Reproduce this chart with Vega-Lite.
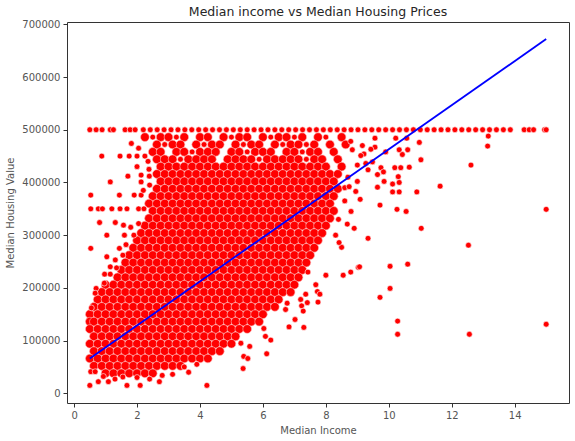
{
  "$schema": "https://vega.github.io/schema/vega-lite/v6.json",
  "width": 502,
  "height": 381,
  "autosize": "none",
  "padding": {"left": 67, "top": 22, "right": 6, "bottom": 38},
  "title": {"text": "Median income vs Median Housing Prices", "font": "DejaVu Sans", "fontSize": 12.5, "fontWeight": "normal", "color": "#262626", "offset": 1},
  "config": {
    "view": {"stroke": "#333333", "strokeWidth": 1},
    "axis": {"grid": false, "domain": false, "labelFont": "DejaVu Sans", "titleFont": "DejaVu Sans", "labelFontSize": 10, "titleFontSize": 10, "labelColor": "#555555", "titleColor": "#555555", "titleFontWeight": "normal", "tickColor": "#333333", "tickSize": 4, "labelPadding": 3, "labelFlush": false}
  },
  "datasets": {
    "core": [
      {"x":2.25,"y":486000},{"x":2.75,"y":486000},{"x":3.0,"y":486000},{"x":3.5,"y":486000},{"x":4.0,"y":486000},{"x":4.25,"y":486000},{"x":4.75,"y":486000},{"x":5.25,"y":486000},{"x":5.5,"y":486000},{"x":6.0,"y":486000},{"x":6.5,"y":486000},{"x":6.75,"y":486000},{"x":7.25,"y":486000},{"x":7.75,"y":486000},{"x":8.5,"y":486000},
      {"x":2.63,"y":472000},{"x":3.13,"y":472000},{"x":3.38,"y":472000},{"x":3.88,"y":472000},{"x":4.38,"y":472000},{"x":4.63,"y":472000},{"x":5.13,"y":472000},{"x":5.63,"y":472000},{"x":5.88,"y":472000},{"x":6.38,"y":472000},{"x":6.88,"y":472000},{"x":7.13,"y":472000},{"x":7.63,"y":472000},{"x":8.13,"y":472000},{"x":8.63,"y":472000},
      {"x":2.5,"y":458000},{"x":2.75,"y":458000},{"x":3.25,"y":458000},{"x":3.5,"y":458000},{"x":4.0,"y":458000},{"x":4.25,"y":458000},{"x":4.5,"y":458000},{"x":5.0,"y":458000},{"x":5.25,"y":458000},{"x":5.75,"y":458000},{"x":6.0,"y":458000},{"x":6.25,"y":458000},{"x":6.75,"y":458000},{"x":7.0,"y":458000},{"x":7.5,"y":458000},{"x":7.75,"y":458000},{"x":8.25,"y":458000},
      {"x":2.63,"y":444000},{"x":2.88,"y":444000},{"x":3.13,"y":444000},{"x":3.63,"y":444000},{"x":3.88,"y":444000},{"x":4.13,"y":444000},{"x":4.38,"y":444000},{"x":4.88,"y":444000},{"x":5.13,"y":444000},{"x":5.38,"y":444000},{"x":5.63,"y":444000},{"x":6.13,"y":444000},{"x":6.38,"y":444000},{"x":6.63,"y":444000},{"x":6.88,"y":444000},{"x":7.13,"y":444000},{"x":7.63,"y":444000},{"x":7.88,"y":444000},{"x":8.38,"y":444000},
      {"x":2.75,"y":430000},{"x":3.0,"y":430000},{"x":3.25,"y":430000},{"x":3.5,"y":430000},{"x":3.75,"y":430000},{"x":4.0,"y":430000},{"x":4.25,"y":430000},{"x":4.5,"y":430000},{"x":4.75,"y":430000},{"x":5.0,"y":430000},{"x":5.25,"y":430000},{"x":5.5,"y":430000},{"x":5.75,"y":430000},{"x":6.0,"y":430000},{"x":6.25,"y":430000},{"x":6.5,"y":430000},{"x":6.75,"y":430000},{"x":7.0,"y":430000},{"x":7.25,"y":430000},{"x":7.5,"y":430000},{"x":7.75,"y":430000},{"x":8.0,"y":430000},{"x":8.5,"y":430000},
      {"x":2.63,"y":416000},{"x":2.88,"y":416000},{"x":3.13,"y":416000},{"x":3.38,"y":416000},{"x":3.63,"y":416000},{"x":3.88,"y":416000},{"x":4.13,"y":416000},{"x":4.38,"y":416000},{"x":4.63,"y":416000},{"x":4.88,"y":416000},{"x":5.13,"y":416000},{"x":5.38,"y":416000},{"x":5.63,"y":416000},{"x":5.88,"y":416000},{"x":6.13,"y":416000},{"x":6.38,"y":416000},{"x":6.63,"y":416000},{"x":6.88,"y":416000},{"x":7.13,"y":416000},{"x":7.38,"y":416000},{"x":7.63,"y":416000},{"x":7.88,"y":416000},{"x":8.13,"y":416000},{"x":8.38,"y":416000},
      {"x":2.75,"y":402000},{"x":3.0,"y":402000},{"x":3.25,"y":402000},{"x":3.5,"y":402000},{"x":3.75,"y":402000},{"x":4.0,"y":402000},{"x":4.25,"y":402000},{"x":4.5,"y":402000},{"x":4.75,"y":402000},{"x":5.0,"y":402000},{"x":5.25,"y":402000},{"x":5.5,"y":402000},{"x":5.75,"y":402000},{"x":6.0,"y":402000},{"x":6.25,"y":402000},{"x":6.5,"y":402000},{"x":6.75,"y":402000},{"x":7.0,"y":402000},{"x":7.25,"y":402000},{"x":7.5,"y":402000},{"x":7.75,"y":402000},{"x":8.0,"y":402000},{"x":8.25,"y":402000},
      {"x":2.63,"y":388000},{"x":2.88,"y":388000},{"x":3.13,"y":388000},{"x":3.38,"y":388000},{"x":3.63,"y":388000},{"x":3.88,"y":388000},{"x":4.13,"y":388000},{"x":4.38,"y":388000},{"x":4.63,"y":388000},{"x":4.88,"y":388000},{"x":5.13,"y":388000},{"x":5.38,"y":388000},{"x":5.63,"y":388000},{"x":5.88,"y":388000},{"x":6.13,"y":388000},{"x":6.38,"y":388000},{"x":6.63,"y":388000},{"x":6.88,"y":388000},{"x":7.13,"y":388000},{"x":7.38,"y":388000},{"x":7.63,"y":388000},{"x":7.88,"y":388000},{"x":8.13,"y":388000},{"x":8.38,"y":388000},
      {"x":2.5,"y":374000},{"x":2.75,"y":374000},{"x":3.0,"y":374000},{"x":3.25,"y":374000},{"x":3.5,"y":374000},{"x":3.75,"y":374000},{"x":4.0,"y":374000},{"x":4.25,"y":374000},{"x":4.5,"y":374000},{"x":4.75,"y":374000},{"x":5.0,"y":374000},{"x":5.25,"y":374000},{"x":5.5,"y":374000},{"x":5.75,"y":374000},{"x":6.0,"y":374000},{"x":6.25,"y":374000},{"x":6.5,"y":374000},{"x":6.75,"y":374000},{"x":7.0,"y":374000},{"x":7.25,"y":374000},{"x":7.5,"y":374000},{"x":7.75,"y":374000},{"x":8.0,"y":374000},{"x":8.25,"y":374000},
      {"x":2.38,"y":360000},{"x":2.63,"y":360000},{"x":2.88,"y":360000},{"x":3.13,"y":360000},{"x":3.38,"y":360000},{"x":3.63,"y":360000},{"x":3.88,"y":360000},{"x":4.13,"y":360000},{"x":4.38,"y":360000},{"x":4.63,"y":360000},{"x":4.88,"y":360000},{"x":5.13,"y":360000},{"x":5.38,"y":360000},{"x":5.63,"y":360000},{"x":5.88,"y":360000},{"x":6.13,"y":360000},{"x":6.38,"y":360000},{"x":6.63,"y":360000},{"x":6.88,"y":360000},{"x":7.13,"y":360000},{"x":7.38,"y":360000},{"x":7.63,"y":360000},{"x":7.88,"y":360000},{"x":8.13,"y":360000},
      {"x":2.5,"y":346000},{"x":2.75,"y":346000},{"x":3.0,"y":346000},{"x":3.25,"y":346000},{"x":3.5,"y":346000},{"x":3.75,"y":346000},{"x":4.0,"y":346000},{"x":4.25,"y":346000},{"x":4.5,"y":346000},{"x":4.75,"y":346000},{"x":5.0,"y":346000},{"x":5.25,"y":346000},{"x":5.5,"y":346000},{"x":5.75,"y":346000},{"x":6.0,"y":346000},{"x":6.25,"y":346000},{"x":6.5,"y":346000},{"x":6.75,"y":346000},{"x":7.0,"y":346000},{"x":7.25,"y":346000},{"x":7.5,"y":346000},{"x":7.75,"y":346000},{"x":8.0,"y":346000},{"x":8.25,"y":346000},
      {"x":2.38,"y":332000},{"x":2.63,"y":332000},{"x":2.88,"y":332000},{"x":3.13,"y":332000},{"x":3.38,"y":332000},{"x":3.63,"y":332000},{"x":3.88,"y":332000},{"x":4.13,"y":332000},{"x":4.38,"y":332000},{"x":4.63,"y":332000},{"x":4.88,"y":332000},{"x":5.13,"y":332000},{"x":5.38,"y":332000},{"x":5.63,"y":332000},{"x":5.88,"y":332000},{"x":6.13,"y":332000},{"x":6.38,"y":332000},{"x":6.63,"y":332000},{"x":6.88,"y":332000},{"x":7.13,"y":332000},{"x":7.38,"y":332000},{"x":7.63,"y":332000},{"x":7.88,"y":332000},{"x":8.13,"y":332000},
      {"x":2.25,"y":318000},{"x":2.5,"y":318000},{"x":2.75,"y":318000},{"x":3.0,"y":318000},{"x":3.25,"y":318000},{"x":3.5,"y":318000},{"x":3.75,"y":318000},{"x":4.0,"y":318000},{"x":4.25,"y":318000},{"x":4.5,"y":318000},{"x":4.75,"y":318000},{"x":5.0,"y":318000},{"x":5.25,"y":318000},{"x":5.5,"y":318000},{"x":5.75,"y":318000},{"x":6.0,"y":318000},{"x":6.25,"y":318000},{"x":6.5,"y":318000},{"x":6.75,"y":318000},{"x":7.0,"y":318000},{"x":7.25,"y":318000},{"x":7.5,"y":318000},{"x":7.75,"y":318000},{"x":8.0,"y":318000},
      {"x":2.13,"y":304000},{"x":2.38,"y":304000},{"x":2.63,"y":304000},{"x":2.88,"y":304000},{"x":3.13,"y":304000},{"x":3.38,"y":304000},{"x":3.63,"y":304000},{"x":3.88,"y":304000},{"x":4.13,"y":304000},{"x":4.38,"y":304000},{"x":4.63,"y":304000},{"x":4.88,"y":304000},{"x":5.13,"y":304000},{"x":5.38,"y":304000},{"x":5.63,"y":304000},{"x":5.88,"y":304000},{"x":6.13,"y":304000},{"x":6.38,"y":304000},{"x":6.63,"y":304000},{"x":6.88,"y":304000},{"x":7.13,"y":304000},{"x":7.38,"y":304000},{"x":7.63,"y":304000},{"x":7.88,"y":304000},
      {"x":2.0,"y":290000},{"x":2.25,"y":290000},{"x":2.5,"y":290000},{"x":2.75,"y":290000},{"x":3.0,"y":290000},{"x":3.25,"y":290000},{"x":3.5,"y":290000},{"x":3.75,"y":290000},{"x":4.0,"y":290000},{"x":4.25,"y":290000},{"x":4.5,"y":290000},{"x":4.75,"y":290000},{"x":5.0,"y":290000},{"x":5.25,"y":290000},{"x":5.5,"y":290000},{"x":5.75,"y":290000},{"x":6.0,"y":290000},{"x":6.25,"y":290000},{"x":6.5,"y":290000},{"x":6.75,"y":290000},{"x":7.0,"y":290000},{"x":7.25,"y":290000},{"x":7.5,"y":290000},{"x":7.75,"y":290000},
      {"x":1.88,"y":276000},{"x":2.13,"y":276000},{"x":2.38,"y":276000},{"x":2.63,"y":276000},{"x":2.88,"y":276000},{"x":3.13,"y":276000},{"x":3.38,"y":276000},{"x":3.63,"y":276000},{"x":3.88,"y":276000},{"x":4.13,"y":276000},{"x":4.38,"y":276000},{"x":4.63,"y":276000},{"x":4.88,"y":276000},{"x":5.13,"y":276000},{"x":5.38,"y":276000},{"x":5.63,"y":276000},{"x":5.88,"y":276000},{"x":6.13,"y":276000},{"x":6.38,"y":276000},{"x":6.63,"y":276000},{"x":6.88,"y":276000},{"x":7.13,"y":276000},{"x":7.38,"y":276000},{"x":7.63,"y":276000},
      {"x":1.75,"y":262000},{"x":2.0,"y":262000},{"x":2.25,"y":262000},{"x":2.5,"y":262000},{"x":2.75,"y":262000},{"x":3.0,"y":262000},{"x":3.25,"y":262000},{"x":3.5,"y":262000},{"x":3.75,"y":262000},{"x":4.0,"y":262000},{"x":4.25,"y":262000},{"x":4.5,"y":262000},{"x":4.75,"y":262000},{"x":5.0,"y":262000},{"x":5.25,"y":262000},{"x":5.5,"y":262000},{"x":5.75,"y":262000},{"x":6.0,"y":262000},{"x":6.25,"y":262000},{"x":6.5,"y":262000},{"x":6.75,"y":262000},{"x":7.0,"y":262000},{"x":7.25,"y":262000},{"x":7.5,"y":262000},
      {"x":1.63,"y":248000},{"x":1.88,"y":248000},{"x":2.13,"y":248000},{"x":2.38,"y":248000},{"x":2.63,"y":248000},{"x":2.88,"y":248000},{"x":3.13,"y":248000},{"x":3.38,"y":248000},{"x":3.63,"y":248000},{"x":3.88,"y":248000},{"x":4.13,"y":248000},{"x":4.38,"y":248000},{"x":4.63,"y":248000},{"x":4.88,"y":248000},{"x":5.13,"y":248000},{"x":5.38,"y":248000},{"x":5.63,"y":248000},{"x":5.88,"y":248000},{"x":6.13,"y":248000},{"x":6.38,"y":248000},{"x":6.63,"y":248000},{"x":6.88,"y":248000},{"x":7.13,"y":248000},{"x":7.38,"y":248000},
      {"x":1.5,"y":234000},{"x":1.75,"y":234000},{"x":2.0,"y":234000},{"x":2.25,"y":234000},{"x":2.5,"y":234000},{"x":2.75,"y":234000},{"x":3.0,"y":234000},{"x":3.25,"y":234000},{"x":3.5,"y":234000},{"x":3.75,"y":234000},{"x":4.0,"y":234000},{"x":4.25,"y":234000},{"x":4.5,"y":234000},{"x":4.75,"y":234000},{"x":5.0,"y":234000},{"x":5.25,"y":234000},{"x":5.5,"y":234000},{"x":5.75,"y":234000},{"x":6.0,"y":234000},{"x":6.25,"y":234000},{"x":6.5,"y":234000},{"x":6.75,"y":234000},{"x":7.0,"y":234000},{"x":7.25,"y":234000},
      {"x":1.38,"y":220000},{"x":1.63,"y":220000},{"x":1.88,"y":220000},{"x":2.13,"y":220000},{"x":2.38,"y":220000},{"x":2.63,"y":220000},{"x":2.88,"y":220000},{"x":3.13,"y":220000},{"x":3.38,"y":220000},{"x":3.63,"y":220000},{"x":3.88,"y":220000},{"x":4.13,"y":220000},{"x":4.38,"y":220000},{"x":4.63,"y":220000},{"x":4.88,"y":220000},{"x":5.13,"y":220000},{"x":5.38,"y":220000},{"x":5.63,"y":220000},{"x":5.88,"y":220000},{"x":6.13,"y":220000},{"x":6.38,"y":220000},{"x":6.63,"y":220000},{"x":6.88,"y":220000},{"x":7.13,"y":220000},
      {"x":1.0,"y":206000},{"x":1.25,"y":206000},{"x":1.5,"y":206000},{"x":1.75,"y":206000},{"x":2.0,"y":206000},{"x":2.25,"y":206000},{"x":2.5,"y":206000},{"x":2.75,"y":206000},{"x":3.0,"y":206000},{"x":3.25,"y":206000},{"x":3.5,"y":206000},{"x":3.75,"y":206000},{"x":4.0,"y":206000},{"x":4.25,"y":206000},{"x":4.5,"y":206000},{"x":4.75,"y":206000},{"x":5.0,"y":206000},{"x":5.25,"y":206000},{"x":5.5,"y":206000},{"x":5.75,"y":206000},{"x":6.0,"y":206000},{"x":6.25,"y":206000},{"x":6.5,"y":206000},{"x":6.75,"y":206000},{"x":7.0,"y":206000},
      {"x":0.88,"y":192000},{"x":1.13,"y":192000},{"x":1.38,"y":192000},{"x":1.63,"y":192000},{"x":1.88,"y":192000},{"x":2.13,"y":192000},{"x":2.38,"y":192000},{"x":2.63,"y":192000},{"x":2.88,"y":192000},{"x":3.13,"y":192000},{"x":3.38,"y":192000},{"x":3.63,"y":192000},{"x":3.88,"y":192000},{"x":4.13,"y":192000},{"x":4.38,"y":192000},{"x":4.63,"y":192000},{"x":4.88,"y":192000},{"x":5.13,"y":192000},{"x":5.38,"y":192000},{"x":5.63,"y":192000},{"x":5.88,"y":192000},{"x":6.13,"y":192000},{"x":6.38,"y":192000},{"x":6.63,"y":192000},{"x":6.88,"y":192000},
      {"x":0.75,"y":178000},{"x":1.0,"y":178000},{"x":1.25,"y":178000},{"x":1.5,"y":178000},{"x":1.75,"y":178000},{"x":2.0,"y":178000},{"x":2.25,"y":178000},{"x":2.5,"y":178000},{"x":2.75,"y":178000},{"x":3.0,"y":178000},{"x":3.25,"y":178000},{"x":3.5,"y":178000},{"x":3.75,"y":178000},{"x":4.0,"y":178000},{"x":4.25,"y":178000},{"x":4.5,"y":178000},{"x":4.75,"y":178000},{"x":5.0,"y":178000},{"x":5.25,"y":178000},{"x":5.5,"y":178000},{"x":5.75,"y":178000},{"x":6.0,"y":178000},{"x":6.25,"y":178000},{"x":6.5,"y":178000},
      {"x":0.63,"y":164000},{"x":0.88,"y":164000},{"x":1.13,"y":164000},{"x":1.38,"y":164000},{"x":1.63,"y":164000},{"x":1.88,"y":164000},{"x":2.13,"y":164000},{"x":2.38,"y":164000},{"x":2.63,"y":164000},{"x":2.88,"y":164000},{"x":3.13,"y":164000},{"x":3.38,"y":164000},{"x":3.63,"y":164000},{"x":3.88,"y":164000},{"x":4.13,"y":164000},{"x":4.38,"y":164000},{"x":4.63,"y":164000},{"x":4.88,"y":164000},{"x":5.13,"y":164000},{"x":5.38,"y":164000},{"x":5.63,"y":164000},{"x":5.88,"y":164000},{"x":6.13,"y":164000},{"x":6.38,"y":164000},
      {"x":0.5,"y":150000},{"x":0.75,"y":150000},{"x":1.0,"y":150000},{"x":1.25,"y":150000},{"x":1.5,"y":150000},{"x":1.75,"y":150000},{"x":2.0,"y":150000},{"x":2.25,"y":150000},{"x":2.5,"y":150000},{"x":2.75,"y":150000},{"x":3.0,"y":150000},{"x":3.25,"y":150000},{"x":3.5,"y":150000},{"x":3.75,"y":150000},{"x":4.0,"y":150000},{"x":4.25,"y":150000},{"x":4.5,"y":150000},{"x":4.75,"y":150000},{"x":5.0,"y":150000},{"x":5.25,"y":150000},{"x":5.5,"y":150000},{"x":5.75,"y":150000},{"x":6.0,"y":150000},
      {"x":0.5,"y":136000},{"x":0.63,"y":136000},{"x":0.88,"y":136000},{"x":1.13,"y":136000},{"x":1.38,"y":136000},{"x":1.63,"y":136000},{"x":1.88,"y":136000},{"x":2.13,"y":136000},{"x":2.38,"y":136000},{"x":2.63,"y":136000},{"x":2.88,"y":136000},{"x":3.13,"y":136000},{"x":3.38,"y":136000},{"x":3.63,"y":136000},{"x":3.88,"y":136000},{"x":4.13,"y":136000},{"x":4.38,"y":136000},{"x":4.63,"y":136000},{"x":4.88,"y":136000},{"x":5.13,"y":136000},{"x":5.38,"y":136000},{"x":5.63,"y":136000},{"x":5.88,"y":136000},
      {"x":0.5,"y":122000},{"x":0.75,"y":122000},{"x":1.0,"y":122000},{"x":1.25,"y":122000},{"x":1.5,"y":122000},{"x":1.75,"y":122000},{"x":2.0,"y":122000},{"x":2.25,"y":122000},{"x":2.5,"y":122000},{"x":2.75,"y":122000},{"x":3.0,"y":122000},{"x":3.25,"y":122000},{"x":3.5,"y":122000},{"x":3.75,"y":122000},{"x":4.0,"y":122000},{"x":4.25,"y":122000},{"x":4.5,"y":122000},{"x":4.75,"y":122000},{"x":5.0,"y":122000},{"x":5.25,"y":122000},{"x":5.5,"y":122000},
      {"x":0.63,"y":108000},{"x":0.88,"y":108000},{"x":1.13,"y":108000},{"x":1.38,"y":108000},{"x":1.63,"y":108000},{"x":1.88,"y":108000},{"x":2.13,"y":108000},{"x":2.38,"y":108000},{"x":2.63,"y":108000},{"x":2.88,"y":108000},{"x":3.13,"y":108000},{"x":3.38,"y":108000},{"x":3.63,"y":108000},{"x":3.88,"y":108000},{"x":4.13,"y":108000},{"x":4.38,"y":108000},{"x":4.63,"y":108000},{"x":4.88,"y":108000},{"x":5.13,"y":108000},
      {"x":0.5,"y":94000},{"x":0.75,"y":94000},{"x":1.0,"y":94000},{"x":1.25,"y":94000},{"x":1.5,"y":94000},{"x":1.75,"y":94000},{"x":2.0,"y":94000},{"x":2.25,"y":94000},{"x":2.5,"y":94000},{"x":2.75,"y":94000},{"x":3.0,"y":94000},{"x":3.25,"y":94000},{"x":3.5,"y":94000},{"x":3.75,"y":94000},{"x":4.0,"y":94000},{"x":4.25,"y":94000},{"x":4.5,"y":94000},{"x":4.75,"y":94000},{"x":5.0,"y":94000},
      {"x":0.63,"y":80000},{"x":0.88,"y":80000},{"x":1.13,"y":80000},{"x":1.38,"y":80000},{"x":1.63,"y":80000},{"x":1.88,"y":80000},{"x":2.13,"y":80000},{"x":2.38,"y":80000},{"x":2.63,"y":80000},{"x":2.88,"y":80000},{"x":3.13,"y":80000},{"x":3.38,"y":80000},{"x":3.63,"y":80000},{"x":3.88,"y":80000},{"x":4.13,"y":80000},{"x":4.38,"y":80000},{"x":4.63,"y":80000},
      {"x":0.5,"y":66000},{"x":0.75,"y":66000},{"x":1.0,"y":66000},{"x":1.25,"y":66000},{"x":1.5,"y":66000},{"x":1.75,"y":66000},{"x":2.0,"y":66000},{"x":2.25,"y":66000},{"x":2.5,"y":66000},{"x":2.75,"y":66000},{"x":3.0,"y":66000},{"x":3.25,"y":66000},{"x":3.5,"y":66000},{"x":3.75,"y":66000},{"x":4.0,"y":66000},{"x":4.25,"y":66000},
      {"x":0.63,"y":52000},{"x":0.88,"y":52000},{"x":1.13,"y":52000},{"x":1.38,"y":52000},{"x":1.63,"y":52000},{"x":1.88,"y":52000},{"x":2.13,"y":52000},{"x":2.38,"y":52000},{"x":2.63,"y":52000},{"x":2.88,"y":52000},{"x":3.13,"y":52000},{"x":3.38,"y":52000},
      {"x":1.0,"y":38000},{"x":1.25,"y":38000},{"x":1.5,"y":38000},{"x":1.75,"y":38000},{"x":2.0,"y":38000},{"x":2.25,"y":38000},{"x":2.5,"y":38000}
    ],
    "extra": [
      {"x":0.5,"y":500001},{"x":0.7,"y":500001},{"x":0.89,"y":500001},{"x":1.15,"y":500001},{"x":1.25,"y":500001},{"x":1.62,"y":500001},{"x":1.78,"y":500001},{"x":1.94,"y":500001},{"x":2.2,"y":500001},{"x":2.42,"y":500001},{"x":2.64,"y":500001},{"x":2.86,"y":500001},{"x":3.08,"y":500001},{"x":3.3,"y":500001},{"x":3.52,"y":500001},{"x":3.74,"y":500001},{"x":3.96,"y":500001},{"x":4.18,"y":500001},{"x":4.4,"y":500001},{"x":4.62,"y":500001},{"x":4.84,"y":500001},{"x":5.06,"y":500001},{"x":5.28,"y":500001},{"x":5.5,"y":500001},{"x":5.72,"y":500001},{"x":5.94,"y":500001},{"x":6.16,"y":500001},{"x":6.38,"y":500001},{"x":6.6,"y":500001},{"x":6.82,"y":500001},{"x":7.04,"y":500001},{"x":7.26,"y":500001},{"x":7.48,"y":500001},{"x":7.7,"y":500001},{"x":7.92,"y":500001},{"x":8.14,"y":500001},{"x":8.36,"y":500001},{"x":8.58,"y":500001},{"x":8.8,"y":500001},{"x":9.02,"y":500001},{"x":9.24,"y":500001},{"x":9.46,"y":500001},{"x":9.68,"y":500001},{"x":9.9,"y":500001},{"x":10.12,"y":500001},{"x":10.34,"y":500001},{"x":10.56,"y":500001},{"x":10.78,"y":500001},{"x":11.0,"y":500001},{"x":11.22,"y":500001},{"x":11.44,"y":500001},{"x":11.66,"y":500001},{"x":11.88,"y":500001},{"x":12.1,"y":500001},{"x":12.32,"y":500001},{"x":12.54,"y":500001},{"x":12.76,"y":500001},{"x":12.98,"y":500001},{"x":13.2,"y":500001},{"x":13.42,"y":500001},{"x":13.64,"y":500001},{"x":13.86,"y":500001},{"x":14.3,"y":500001},{"x":14.46,"y":500001},{"x":14.6,"y":500001},{"x":14.95,"y":500001},{"x":15.0,"y":500001},
      {"x":2.5,"y":486000},{"x":3.25,"y":486000},{"x":5.0,"y":486000},{"x":6.25,"y":486000},{"x":7.0,"y":486000},{"x":8.0,"y":486000},{"x":2.88,"y":472000},{"x":4.13,"y":472000},{"x":5.38,"y":472000},{"x":6.63,"y":472000},{"x":7.38,"y":472000},{"x":3.75,"y":458000},{"x":5.5,"y":458000},{"x":7.25,"y":458000},{"x":3.38,"y":444000},{"x":5.88,"y":444000},{"x":7.38,"y":444000},
      {"x":0.53,"y":376000},{"x":1.44,"y":376000},{"x":1.91,"y":376000},{"x":2.13,"y":376000},
      {"x":0.53,"y":350000},{"x":0.77,"y":350000},{"x":0.9,"y":350000},{"x":1.2,"y":350000},{"x":1.46,"y":350000},{"x":1.68,"y":350000},{"x":2.05,"y":350000},{"x":2.22,"y":350000},
      {"x":0.88,"y":450000},{"x":1.46,"y":450000},{"x":1.75,"y":450000},{"x":2.0,"y":450000},{"x":2.25,"y":450000},
      {"x":1.82,"y":474000},{"x":1.15,"y":401000},{"x":1.71,"y":412000},{"x":2.13,"y":401000},{"x":2.13,"y":414000},{"x":2.39,"y":412000},
      {"x":2.05,"y":465000},{"x":2.35,"y":440000},{"x":2.0,"y":430000},{"x":2.38,"y":425000},{"x":2.4,"y":395000},{"x":2.2,"y":385000},
      {"x":0.81,"y":324000},{"x":1.31,"y":324000},{"x":1.57,"y":319000},{"x":1.8,"y":315000},{"x":2.05,"y":322000},{"x":1.04,"y":300000},{"x":1.6,"y":300000},{"x":1.9,"y":300000},
      {"x":0.53,"y":275000},{"x":1.44,"y":275000},{"x":1.65,"y":282000},{"x":1.04,"y":259000},{"x":1.31,"y":253000},{"x":1.55,"y":262000},{"x":1.15,"y":240000},{"x":1.35,"y":238000},
      {"x":0.97,"y":226000},{"x":1.15,"y":226000},{"x":0.7,"y":199000},{"x":0.96,"y":209000},{"x":0.67,"y":190000},{"x":0.55,"y":162000},
      {"x":0.5,"y":15000},{"x":0.77,"y":22000},{"x":1.09,"y":22000},{"x":1.68,"y":15000},{"x":2.1,"y":15000},{"x":2.71,"y":22000},{"x":4.22,"y":14999},
      {"x":0.53,"y":41000},{"x":0.67,"y":41000},{"x":0.93,"y":32000},{"x":1.3,"y":27000},{"x":1.55,"y":31000},{"x":2.0,"y":30000},{"x":2.4,"y":27000},{"x":2.8,"y":34000},{"x":3.13,"y":36000},{"x":3.64,"y":40000},{"x":3.5,"y":50000},{"x":3.9,"y":55000},
      {"x":5.37,"y":47000},{"x":5.39,"y":70000},{"x":5.52,"y":66000},{"x":6.12,"y":75000},{"x":5.58,"y":89000},{"x":5.3,"y":95000},{"x":6.03,"y":123000},{"x":6.08,"y":108000},{"x":6.25,"y":101000},
      {"x":6.83,"y":126000},{"x":7.02,"y":140000},{"x":7.3,"y":125000},{"x":6.72,"y":159000},{"x":6.77,"y":171000},{"x":7.2,"y":178000},{"x":7.41,"y":172000},{"x":7.23,"y":166000},{"x":7.28,"y":156000},{"x":7.75,"y":173000},
      {"x":7.68,"y":206000},{"x":7.73,"y":193000},{"x":7.81,"y":188000},{"x":7.36,"y":188000},{"x":7.43,"y":230000},{"x":8.0,"y":224000},{"x":8.55,"y":224000},{"x":8.79,"y":230000},{"x":9.03,"y":239000},
      {"x":10.97,"y":476000},{"x":13.16,"y":488000},{"x":13.14,"y":469000},{"x":11.02,"y":443000},{"x":12.61,"y":433000},{"x":10.65,"y":429000},{"x":10.19,"y":428000},{"x":10.38,"y":428000},{"x":9.75,"y":428000},{"x":9.83,"y":420000},{"x":9.64,"y":415000},
      {"x":11.63,"y":393000},{"x":10.89,"y":382000},{"x":10.3,"y":411000},{"x":10.33,"y":400000},{"x":10.12,"y":397000},{"x":10.12,"y":382000},{"x":10.33,"y":382000},{"x":9.64,"y":391000},{"x":9.85,"y":402000},
      {"x":9.09,"y":368000},{"x":9.72,"y":357000},{"x":10.26,"y":349000},{"x":10.55,"y":345000},{"x":15.0,"y":349000},{"x":11.03,"y":313000},{"x":9.34,"y":294000},{"x":12.53,"y":281000},
      {"x":8.9,"y":313000},{"x":8.68,"y":321000},{"x":8.5,"y":277000},{"x":8.42,"y":286000},{"x":8.31,"y":300000},{"x":8.4,"y":330000},{"x":8.6,"y":365000},{"x":8.8,"y":345000},{"x":8.7,"y":410000},{"x":8.6,"y":390000},
      {"x":9.07,"y":240000},{"x":10.04,"y":241000},{"x":10.6,"y":245000},{"x":10.04,"y":199000},{"x":9.72,"y":182000},
      {"x":10.28,"y":137000},{"x":10.28,"y":112000},{"x":12.56,"y":112000},{"x":15.0,"y":131000},
      {"x":10.22,"y":484000},{"x":10.57,"y":484000},{"x":10.33,"y":462000},{"x":10.6,"y":462000},{"x":10.43,"y":453000},{"x":9.9,"y":458000},{"x":9.56,"y":484000},{"x":9.56,"y":467000},{"x":9.16,"y":470000},{"x":9.43,"y":463000},{"x":9.21,"y":454000},
      {"x":8.79,"y":478000},{"x":8.84,"y":462000},{"x":9.11,"y":451000},{"x":9.48,"y":439000},{"x":9.27,"y":436000},{"x":9.0,"y":433000},{"x":9.34,"y":424000},{"x":9.0,"y":402000},{"x":8.74,"y":392000},{"x":8.95,"y":383000}
    ],
    "fit": [
      {"x": 0.4999, "y": 65979},
      {"x": 15.0001, "y": 671992}
    ]
  },
  "encoding": {
    "x": {"field": "x", "type": "quantitative", "scale": {"domain": [-0.225, 15.725], "nice": false, "zero": false}, "axis": {"title": "Median Income", "values": [0, 2, 4, 6, 8, 10, 12, 14], "titlePadding": 5}},
    "y": {"field": "y", "type": "quantitative", "scale": {"domain": [-18400, 704400], "nice": false, "zero": false}, "axis": {"title": "Median Housing Value", "values": [0, 100000, 200000, 300000, 400000, 500000, 600000, 700000], "format": "d", "titlePadding": 6}}
  },
  "layer": [
    {
      "data": {"name": "core"},
      "mark": {"type": "circle", "size": 76, "fill": "#ff0000", "stroke": "#ffb8b8", "strokeWidth": 0.6, "opacity": 1}
    },
    {
      "data": {"name": "extra"},
      "mark": {"type": "circle", "size": 34, "fill": "#ff0000", "stroke": "#ffffff", "strokeWidth": 0.6, "opacity": 1}
    },
    {
      "data": {"name": "fit"},
      "mark": {"type": "line", "color": "#0000ff", "strokeWidth": 1.8}
    }
  ]
}
